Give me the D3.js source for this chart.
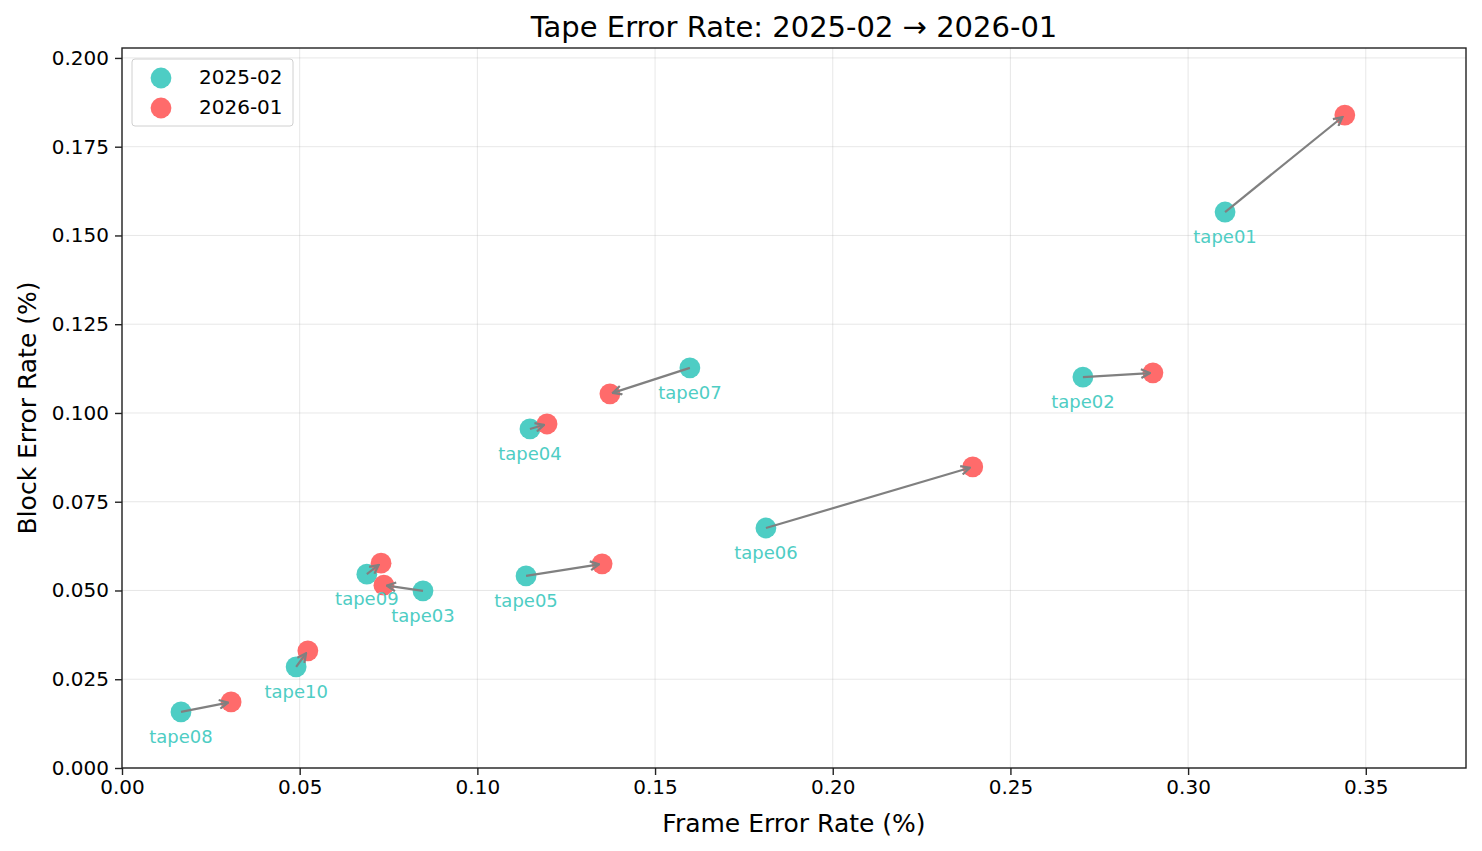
<!DOCTYPE html>
<html>
  <head>
    <script src="https://d3js.org/d3.v7.min.js"></script>
    <style>
      body { margin: 0; background: #fff; }
      text { font-family: "DejaVu Sans", sans-serif; }
    </style>
  </head>
  <body>
    <script>

const tapes = ["tape01", "tape02", "tape03", "tape04", "tape05", "tape06", "tape07", "tape08", "tape09", "tape10"];
const frameOld = [0.3104, 0.2704, 0.0847, 0.1148, 0.1137, 0.1812, 0.1598, 0.0166, 0.0689, 0.0490];
const blockOld = [0.1566, 0.1101, 0.0499, 0.0955, 0.0541, 0.0676, 0.1127, 0.0158, 0.0546, 0.0285];
const frameNew = [0.3441, 0.2901, 0.0737, 0.1196, 0.1351, 0.2394, 0.1373, 0.0307, 0.0729, 0.0523];
const blockNew = [0.1839, 0.1113, 0.0515, 0.0969, 0.0575, 0.0848, 0.1054, 0.0186, 0.0577, 0.0330];
const xTicks = [0, 0.05, 0.10, 0.15, 0.20, 0.25, 0.30, 0.35];
const yTicks = [0, 0.025, 0.05, 0.075, 0.10, 0.125, 0.15, 0.175, 0.20];

const width = 1482, height = 851;
const pLeft = 122, pRight = 1466, pTop = 48, pBottom = 768;
const teal = "#4ecdc4", red = "#ff6b6b";

const data = tapes.map((t, i) => ({
  name: t, x0: frameOld[i], y0: blockOld[i], x1: frameNew[i], y1: blockNew[i]
}));

const x = d3.scaleLinear().domain([0, 0.3782]).range([pLeft, pRight]);
const y = d3.scaleLinear().domain([0, 0.2028]).range([pBottom, pTop]);

const svg = d3.select("body").append("svg")
    .attr("width", width)
    .attr("height", height);

svg.append("defs").append("marker")
    .attr("id", "head")
    .attr("viewBox", "0 0 10 10")
    .attr("refX", 9).attr("refY", 5)
    .attr("markerWidth", 11).attr("markerHeight", 11)
    .attr("markerUnits", "userSpaceOnUse")
    .attr("orient", "auto")
  .append("path")
    .attr("d", "M1,1 L9,5 L1,9")
    .attr("fill", "none")
    .attr("stroke", "#808080")
    .attr("stroke-width", 2);

// grid
svg.append("g").selectAll("line").data(xTicks).join("line")
    .attr("x1", d => x(d)).attr("x2", d => x(d))
    .attr("y1", pTop).attr("y2", pBottom)
    .attr("stroke", "#b0b0b0").attr("stroke-opacity", 0.3);
svg.append("g").selectAll("line").data(yTicks).join("line")
    .attr("x1", pLeft).attr("x2", pRight)
    .attr("y1", d => y(d)).attr("y2", d => y(d))
    .attr("stroke", "#b0b0b0").attr("stroke-opacity", 0.3);

// axes
const xAxis = svg.append("g")
    .attr("transform", `translate(0,${pBottom})`)
    .call(d3.axisBottom(x).tickValues(xTicks).tickFormat(d3.format(".2f")).tickSizeOuter(0).tickSize(7).tickPadding(5));
const yAxis = svg.append("g")
    .attr("transform", `translate(${pLeft},0)`)
    .call(d3.axisLeft(y).tickValues(yTicks).tickFormat(d3.format(".3f")).tickSizeOuter(0).tickSize(7).tickPadding(6));
[xAxis, yAxis].forEach(a => {
  a.select(".domain").remove();
  a.selectAll("text").attr("font-size", 20).attr("fill", "#000").attr("font-family", "DejaVu Sans");
  a.selectAll("line").attr("stroke", "#222").attr("stroke-width", 1.4);
});

svg.append("rect")
    .attr("x", pLeft).attr("y", pTop)
    .attr("width", pRight - pLeft).attr("height", pBottom - pTop)
    .attr("fill", "none").attr("stroke", "#222").attr("stroke-width", 1.4);

// points
svg.append("g").selectAll("circle").data(data).join("circle")
    .attr("cx", d => x(d.x0)).attr("cy", d => y(d.y0)).attr("r", 10.4)
    .attr("fill", teal);
svg.append("g").selectAll("circle").data(data).join("circle")
    .attr("cx", d => x(d.x1)).attr("cy", d => y(d.y1)).attr("r", 10.4)
    .attr("fill", red);

// arrows
svg.append("g").selectAll("line").data(data).join("line")
    .each(function(d) {
      const ax = x(d.x0), ay = y(d.y0), bx = x(d.x1), by = y(d.y1);
      const len = Math.hypot(bx - ax, by - ay);
      const s = Math.min(3, len / 3);
      d3.select(this)
        .attr("x1", ax).attr("y1", ay)
        .attr("x2", bx - (bx - ax) / len * s)
        .attr("y2", by - (by - ay) / len * s);
    })
    .attr("stroke", "#808080").attr("stroke-width", 2.2)
    .attr("marker-end", "url(#head)");

// labels
svg.append("g").selectAll("text").data(data).join("text")
    .attr("x", d => x(d.x0)).attr("y", d => y(d.y0) + 26)
    .attr("text-anchor", "middle").attr("dominant-baseline", "middle")
    .attr("font-size", 18).attr("fill", teal)
    .text(d => d.name);

// titles
svg.append("text").attr("x", (pLeft + pRight) / 2).attr("y", 37)
    .attr("text-anchor", "middle").attr("font-size", 29).text("Tape Error Rate: 2025-02 → 2026-01");
svg.append("text").attr("x", (pLeft + pRight) / 2).attr("y", 832)
    .attr("text-anchor", "middle").attr("font-size", 25).text("Frame Error Rate (%)");
svg.append("text").attr("transform", `translate(36,${(pTop + pBottom) / 2}) rotate(-90)`)
    .attr("text-anchor", "middle").attr("font-size", 25).text("Block Error Rate (%)");

// legend
const lg = svg.append("g").attr("transform", "translate(132,59)");
lg.append("rect").attr("width", 161).attr("height", 67).attr("rx", 3)
    .attr("fill", "#fff").attr("fill-opacity", 0.8).attr("stroke", "#d0d0d0");
[["2025-02", teal], ["2026-01", red]].forEach(([label, c], i) => {
  lg.append("circle").attr("cx", 29).attr("cy", 19 + i * 30).attr("r", 10.4).attr("fill", c);
  lg.append("text").attr("x", 67).attr("y", 19 + i * 30).attr("dominant-baseline", "middle")
      .attr("font-size", 20).text(label);
});

    </script>
  </body>
</html>
